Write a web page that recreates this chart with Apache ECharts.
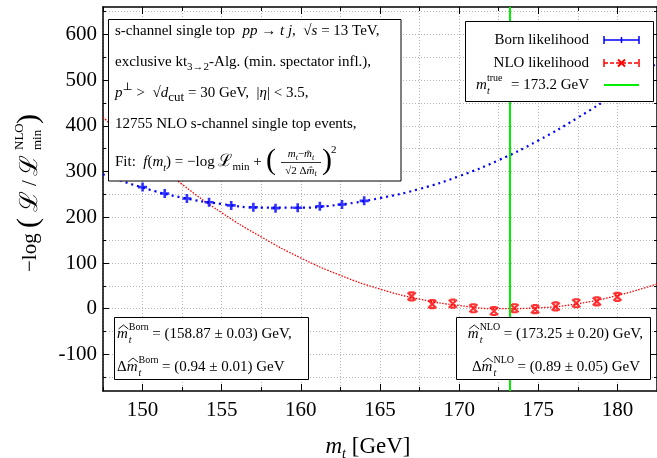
<!DOCTYPE html>
<html><head><meta charset="utf-8">
<script src="https://cdn.jsdelivr.net/npm/echarts@6/dist/echarts.min.js"></script>
<style>html,body{margin:0;padding:0;background:#fff}#c{width:657px;height:458px}</style>
</head><body><div id="c"></div>
<script>
// ---- data ----
const xMin = 147.5, xMax = 182.5, yMin = -180, yMax = 660;
const xLabelValues = [150, 155, 160, 165, 170, 175, 180];
const xTickValues = [147.5, 150, 152.5, 155, 157.5, 160, 162.5, 165, 167.5, 170, 172.5, 175, 177.5, 180, 182.5];
const yLabelValues = [-100, 0, 100, 200, 300, 400, 500, 600];
const yTickValues = [-150, -100, -50, 0, 50, 100, 150, 200, 250, 300, 350, 400, 450, 500, 550, 600, 650];

const bornMass = [150.0, 151.4, 152.8, 154.2, 155.6, 157.0, 158.4, 159.8, 161.2, 162.6, 164.0];
const bornLik  = [266, 252, 241, 233, 226, 222, 220, 221, 224, 228, 236];
const nloMass = [167.0, 168.3, 169.6, 170.9, 172.2, 173.5, 174.8, 176.1, 177.4, 178.7, 180.0];
const nloLik  = [27, 10, 11, 1, -5, 1, -1, 5, 12, 16, 26];

const fitMass = [147.5, 150, 152.5, 155, 157.5, 160, 162.5, 165, 167.5, 170, 172.5, 175, 177.5, 180, 182.5];
const bornFit = [294, 265, 243, 229, 221, 221, 228, 242, 262, 290, 325, 368, 418, 474, 538];
const nloFit  = [419, 341, 272, 210, 157, 111, 73, 43, 21, 7, 0, 2, 11, 29, 54];
const trueMass = 173.2;

// ---- helpers ----
const SERIF = '"Liberation Serif","Times New Roman","DejaVu Serif",serif';
const zip = (a, b) => a.map((v, i) => [v, b[i]]);
const mctx = document.createElement('canvas').getContext('2d');
function W(t, size, italic) { mctx.font = (italic ? 'italic ' : '') + size + 'px ' + SERIF; return mctx.measureText(t).width; }
const G = [];
function txt(x, y, text, o) {
  o = o || {};
  const el = {type: 'text', x: x, y: y, z: 100, style: {
    text: text, fontFamily: SERIF, fontSize: o.size || 15, fontStyle: o.italic ? 'italic' : 'normal',
    fill: '#000', align: o.align || 'left', verticalAlign: 'middle',
    textAlign: o.align || 'left', textVerticalAlign: 'middle'}};
  if (o.rich) el.style.rich = o.rich;
  if (o.lh) el.style.lineHeight = o.lh;
  return el;
}
function add(el) { G.push(el); }
function line(x1, y1, x2, y2, col, w, dash) {
  const s = {stroke: col, lineWidth: w};
  if (dash) s.lineDash = dash;
  return {type: 'line', z: 100, shape: {x1, y1, x2, y2}, style: s};
}
function hatM(x, y) {
  const wm = W('m', 15, true);
  add(txt(x, y, 'm', {italic: true}));
  add({type: 'polyline', z: 100, shape: {points: [[x + 1.5, y - 5], [x + wm / 2 + 1, y - 9], [x + wm + 0.5, y - 5]]},
       style: {stroke: '#000', fill: null, lineWidth: 0.9}});
  return wm;
}
function box(x, y, w, h) {
  add({type: 'rect', z: 99, shape: {x: x, y: y, width: w, height: h}, style: {fill: '#fff', stroke: '#000', lineWidth: 1}});
}
// a line like  Δm̂_t^label = rest
function resultLine(x, y, delta, label, rest, rightEdge) {
  const wD = delta ? W('Δ', 15) : 0, wm = W('m', 15, true);
  const ws = Math.max(W(label, 10), W('t', 10, true)), gap = 3.5, wr = W(rest, 15);
  if (rightEdge !== undefined) x = rightEdge - (wD + wm + 1 + ws + gap + wr);
  if (delta) add(txt(x, y, 'Δ'));
  hatM(x + wD, y);
  const sx = x + wD + wm + 1;
  add(txt(sx, y - 7, label, {size: 10}));
  add(txt(sx, y + 6, 't', {size: 10, italic: true}));
  add(txt(sx + ws + gap, y, rest));
}

const R = {
  i:   {fontFamily: SERIF, fontSize: 15, fontStyle: 'italic'},
  sub: {fontFamily: SERIF, fontSize: 11, verticalAlign: 'bottom'},
  sub2:{fontFamily: SERIF, fontSize: 13, verticalAlign: 'bottom'},
  isub:{fontFamily: SERIF, fontSize: 10, fontStyle: 'italic', verticalAlign: 'bottom'},
  sup: {fontFamily: SERIF, fontSize: 11, verticalAlign: 'top'},
  L:   {fontFamily: SERIF, fontSize: 17}
};
const R2 = {
  i:   {fontFamily: SERIF, fontSize: 11, fontStyle: 'italic'},
  isub:{fontFamily: SERIF, fontSize: 8, fontStyle: 'italic', verticalAlign: 'bottom'}
};

// top-left info box
box(108.5, 19.5, 292.5, 161.5);
add(txt(115, 31, 's-channel single top  {i|pp} → {i|t j},  √{i|s} = 13 TeV,', {rich: R, lh: 22}));
add(txt(115, 62, 'exclusive kt{sub|3→2}-Alg. (min. spectator infl.),', {rich: R, lh: 22}));
add(txt(115, 93, '{i|p}{sup|⊥} >  √{i|d}{sub2|cut} = 30 GeV,  |{i|η}| < 3.5,', {rich: R, lh: 22}));
add(txt(115, 124, '12755 NLO s-channel single top events,'));
add(txt(115, 162, 'Fit:  {i|f}({i|m}{isub|t}) = −log {L|ℒ}{sub|min} + ', {rich: R, lh: 22}));
add(txt(266, 161, '(', {size: 30}));
add(txt(301, 154.5, '{i|m}{isub|t}−{i|m̂}{isub|t}', {size: 11, align: 'center', rich: R2, lh: 14}));
add(line(281, 162.5, 321, 162.5, '#000', 0.8));
add(txt(301, 171, '√2 Δ{i|m̂}{isub|t}', {size: 11, align: 'center', rich: R2, lh: 14}));
add(txt(322, 161, ')', {size: 30}));
add(txt(331, 150, '2', {size: 11}));

// legend box
box(465.5, 21.5, 188, 80);
add(txt(589, 40, 'Born likelihood', {align: 'right'}));
add(txt(589, 63, 'NLO likelihood', {align: 'right'}));
add(txt(476, 85, 'm', {italic: true}));
add(txt(487, 78, 'true', {size: 10}));
add(txt(487, 91, 't', {size: 10, italic: true}));
add(txt(589, 85, '= ' + trueMass + ' GeV', {align: 'right'}));
add(line(604, 40, 639, 40, '#0000ff', 1.5));
add(line(604, 36, 604, 44, '#0000ff', 1.5));
add(line(639, 36, 639, 44, '#0000ff', 1.5));
add(line(621.5, 37, 621.5, 43, '#0000ff', 1.5));
add(line(604, 63, 639, 63, '#ff0000', 1.5, [4, 2]));
add(line(604, 59, 604, 67, '#ff0000', 1.5));
add(line(639, 59, 639, 67, '#ff0000', 1.5));
add(line(618, 59.5, 625, 66.5, '#ff0000', 2));
add(line(618, 66.5, 625, 59.5, '#ff0000', 2));
add(line(604, 85, 639, 85, '#00ee00', 2));

// bottom-left result box
box(114.5, 317.5, 194, 62);
resultLine(117, 334, false, 'Born', '= (158.87 ± 0.03) GeV,');
resultLine(117, 367, true, 'Born', '= (0.94 ± 0.01) GeV');

// bottom-right result box
box(456.5, 317.5, 194, 62);
resultLine(0, 334, false, 'NLO', '= (173.25 ± 0.20) GeV,', 643);
resultLine(0, 367, true, 'NLO', '= (0.89 ± 0.05) GeV', 640);

// axis titles
add(txt(368, 447, '{i|m}{s|t} [GeV]', {size: 23, align: 'center', lh: 28, rich: {
  i: {fontFamily: SERIF, fontSize: 23, fontStyle: 'italic'},
  s: {fontFamily: SERIF, fontSize: 14, fontStyle: 'italic', verticalAlign: 'bottom'}}}));
add({type: 'group', x: 30, y: 272, rotation: Math.PI / 2, z: 100, children: [
  txt(0, 0, '−log', {size: 21}),
  txt(44, -1, '(', {size: 30}),
  txt(60, 0, 'ℒ', {size: 25}),
  txt(86, 0, '/', {size: 21}),
  txt(96, 0, 'ℒ', {size: 25}),
  txt(122, -10, 'NLO', {size: 13}),
  txt(122, 8, 'min', {size: 13}),
  txt(148, -1, ')', {size: 30})
]});

// ---- axes ----
function xAx(position, ticks, len, extra) {
  return Object.assign({type: 'value', gridIndex: 0, position: position, min: xMin, max: xMax,
    axisLine: {show: false, onZero: false},
    axisTick: {show: true, inside: true, length: len, customValues: ticks, lineStyle: {color: '#000', width: 1}},
    axisLabel: {show: false}, splitLine: {show: false}}, extra || {});
}
function yAx(position, ticks, len, extra) {
  return Object.assign({type: 'value', gridIndex: 0, position: position, min: yMin, max: yMax,
    axisLine: {show: false, onZero: false},
    axisTick: {show: true, inside: true, length: len, customValues: ticks, lineStyle: {color: '#000', width: 1}},
    axisLabel: {show: false}, splitLine: {show: false}}, extra || {});
}
const frame = {show: true, onZero: false, lineStyle: {color: '#000', width: 1.5}};
const grid = {show: true, lineStyle: {color: '#b4b4b4', width: 1, type: [1, 2]}};

const option = {
  animation: false,
  backgroundColor: '#fff',
  grid: {left: 103, top: 7, right: -3, bottom: 67, containLabel: false},
  xAxis: [
    xAx('bottom', xTickValues, 4, {axisLine: frame, splitLine: grid,
      axisLabel: {show: true, customValues: xLabelValues, fontFamily: SERIF, fontSize: 21, color: '#000', margin: 9}}),
    xAx('bottom', xLabelValues, 7),
    xAx('top', xTickValues, 4, {axisLine: frame}),
    xAx('top', xLabelValues, 7)
  ],
  yAxis: [
    yAx('left', yTickValues, 3, {axisLine: frame, splitLine: grid,
      axisLabel: {show: true, customValues: yLabelValues, fontFamily: SERIF, fontSize: 21, color: '#000', margin: 6}}),
    yAx('left', yLabelValues, 6),
    yAx('right', yTickValues, 3, {axisLine: frame}),
    yAx('right', yLabelValues, 6)
  ],
  series: [
    {type: 'line', name: 'NLO fit', data: zip(fitMass, nloFit), smooth: true, showSymbol: false, silent: true,
     lineStyle: {color: '#ff0000', width: 1.3, type: [1.5, 1.5]}, z: 2,
     markLine: {silent: true, symbol: ['none', 'none'], label: {show: false}, animation: false,
       lineStyle: {color: '#00ee00', width: 2, type: 'solid'}, data: [{xAxis: trueMass}]}},
    {type: 'line', name: 'Born fit', data: zip(fitMass, bornFit), smooth: true, showSymbol: false, silent: true,
     lineStyle: {color: '#0000ff', width: 2.2, type: [2, 4]}, z: 2},
    {type: 'scatter', name: 'Born likelihood', data: zip(bornMass, bornLik), symbol: 'path://M-5,0L5,0M0,-5L0,5',
     symbolSize: 9, itemStyle: {color: 'rgba(0,0,0,0)', borderColor: '#0000ff', borderWidth: 2.6}, z: 3},
    {type: 'scatter', name: 'NLO likelihood', data: zip(nloMass, nloLik),
     symbol: 'path://M-4,-4L4,4M-4,4L4,-4M-2.5,-4L2.5,-4M-2.5,4L2.5,4',
     symbolSize: 8, itemStyle: {color: 'rgba(0,0,0,0)', borderColor: '#ff0000', borderWidth: 2.2}, z: 3}
  ],
  graphic: {elements: G}
};
const chart = echarts.init(document.getElementById('c'), null, {renderer: 'canvas'});
chart.setOption(option);
</script></body></html>
